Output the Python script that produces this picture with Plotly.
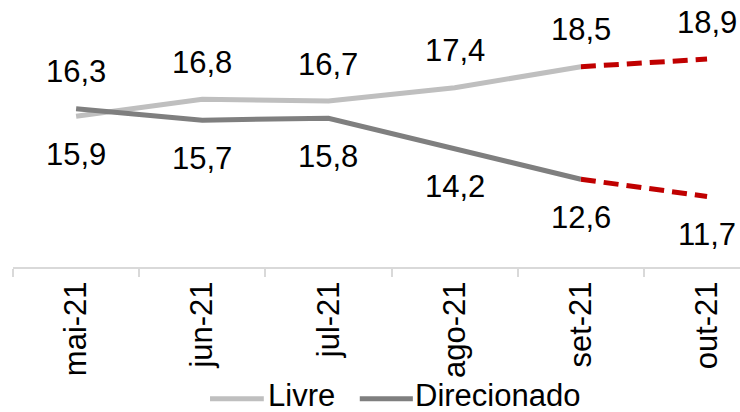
import plotly.graph_objects as go

# Monthly series (%)
months = ["mai-21", "jun-21", "jul-21", "ago-21", "set-21", "out-21"]
livre = [15.9, 16.8, 16.7, 17.4, 18.5, 18.9]
direcionado = [16.3, 15.7, 15.8, 14.2, 12.6, 11.7]
series_names = ["Livre", "Direcionado"]
# index where the projected (dashed) part starts
proj_start = 4

FONT = "Liberation Sans, Arial, sans-serif"
FS = 31
C_LIVRE = "#bfbfbf"
C_DIR = "#7f7f7f"
C_PROJ = "#c00000"
LW = 5

fig = go.Figure()

# realised part of each series
for name, series, color in ((series_names[0], livre, C_LIVRE),
                            (series_names[1], direcionado, C_DIR)):
    fig.add_trace(go.Scatter(x=months[:proj_start + 1], y=series[:proj_start + 1],
                             mode="lines", name=name, showlegend=False,
                             line=dict(color=color, width=LW)))
# projected part, red dashed
for series in (livre, direcionado):
    fig.add_trace(go.Scatter(x=months[proj_start:], y=series[proj_start:],
                             mode="lines", showlegend=False, hoverinfo="skip",
                             line=dict(color=C_PROJ, width=LW, dash="15px,8px")))

def fmt(v):
    return f"{v:.1f}".replace(".", ",")

# value labels: the higher series of each month is labelled above, the lower one below
annotations = []
for i, m in enumerate(months):
    for v, other in ((livre[i], direcionado[i]), (direcionado[i], livre[i])):
        above = v >= other
        annotations.append(dict(
            x=m, y=v, xref="x", yref="y", text=fmt(v), showarrow=False,
            yshift=37 if above else -38,
            font=dict(family=FONT, size=FS, color="black")))

# legend drawn below the axis: short line sample followed by its name
shapes = []
legend_items = [(series_names[0], C_LIVRE, 0.271, 0.345, 0.348),
                (series_names[1], C_DIR, 0.477, 0.550, 0.550)]
LEG_Y = -0.493
for name, color, x0, x1, xt in legend_items:
    shapes.append(dict(type="line", xref="paper", yref="paper",
                       x0=x0, x1=x1, y0=LEG_Y, y1=LEG_Y,
                       line=dict(color=color, width=LW)))
    annotations.append(dict(x=xt, y=LEG_Y + 0.012, xref="paper", yref="paper",
                            xanchor="left", yanchor="middle", text=name,
                            showarrow=False,
                            font=dict(family=FONT, size=FS, color="black")))

fig.update_layout(
    width=740, height=412,
    margin=dict(l=13, r=0, t=0, b=145, autoexpand=False),
    paper_bgcolor="white", plot_bgcolor="white",
    font=dict(family=FONT, size=FS, color="black"),
    annotations=annotations,
    shapes=shapes,
    showlegend=False,
    xaxis=dict(type="category", range=[-0.5, 5.261], automargin=False,
               showline=True, linecolor="#d9d9d9", linewidth=2,
               ticks="outside", tickson="boundaries", ticklen=8,
               tickcolor="#d9d9d9", tickwidth=2,
               tickangle=-90, showgrid=False, zeroline=False,
               tickfont=dict(family=FONT, size=FS, color="black")),
    yaxis=dict(range=[8, 22], visible=False, showgrid=False, zeroline=False),
)

fig.write_html("out.html")
